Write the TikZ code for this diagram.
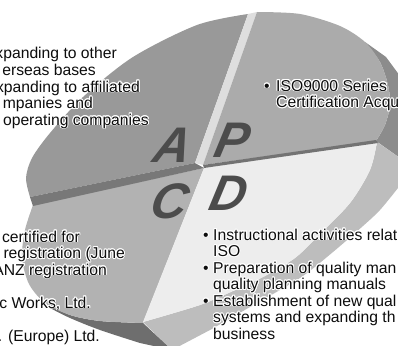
\documentclass[tikz,border=0pt]{standalone}
\usepackage{fontspec}
\setmainfont{Liberation Sans}
\newfontfamily\letterfont[FakeSlant=0.22]{Liberation Sans Bold Italic}
\usepackage[copies]{contour}
\contourlength{0.9pt}
\definecolor{faceA}{gray}{0.60}
\definecolor{faceP}{gray}{0.67}
\definecolor{sideP}{gray}{0.55}
\definecolor{sideLight}{gray}{0.87}
\definecolor{edgeA}{gray}{0.47}
\definecolor{edgeP}{gray}{0.45}
\definecolor{faceC}{gray}{0.70}
\definecolor{sideC}{gray}{0.43}
\definecolor{faceD}{gray}{0.93}
\definecolor{rimD}{gray}{0.74}
\definecolor{chargray}{gray}{0.30}
\definecolor{inkgray}{gray}{0.05}
\newcommand{\halo}[1]{\contour{white}{#1}}

\begin{document}
\begin{tikzpicture}[x=1pt,y=-1pt,
  txt/.style={inner sep=0pt, font=\fontsize{15.7}{16.5}\selectfont, text=inkgray},
  bigchar/.style={inner sep=0pt, font=\fontsize{50}{50}\selectfont\letterfont, text=chargray}]
  \useasboundingbox (0,0) rectangle (398,345);
  \clip (0,0) rectangle (398,345);

  % P side face and D rim
  \fill[sideP] plot[smooth] coordinates {(365,42) (380,62) (388,85) (390,105) (385,125) (376,141)}
    -- (400,158) -- (400,76) -- plot[smooth] coordinates {(386,57) (365,42)} -- cycle;
  \fill[rimD] plot[smooth] coordinates {(377,142) (370,170) (350,203) (318,236) (295,258) (265,276) (233,291) (200,305) (143,322)}
    -- (172,350) -- plot[smooth] coordinates {(210,330) (250,307) (300,278) (333,252) (363,226) (380,210) (398,188)}
    -- (400,158) -- cycle;

  % C slab
  \fill[sideC] plot[smooth] coordinates {(45,303) (70,315) (100,321) (143,323)}
    -- (172,350) -- plot[smooth] coordinates {(140,343) (100,330) (70,318) (50,308)} -- cycle;
  \fill[faceC] plot[smooth] coordinates {(33,205) (25,230) (22,258) (29,284) (45,303) (70,315) (100,321) (143,323)}
    -- (204,168) -- cycle;

  % D slab
  \fill[faceD] (204,168) -- plot[smooth] coordinates {(377,142) (370,170) (350,203) (318,236) (295,258) (265,276) (233,291) (200,305) (143,322)} -- cycle;

  % A slab
  \fill[faceA] plot[smooth] coordinates {(30,197) (26,178) (32,158) (50,133) (83,97) (133,57) (197,25) (248,14)}
    -- (195,163) -- cycle;
  \fill[edgeA] (30,197) -- (195,163) -- (204,168) -- (33,206) -- cycle;

  % P slab
  \fill[sideLight] (248,14) -- (257,12) -- (203,165) -- (195,163) -- cycle;
  \fill[faceP] plot[smooth] coordinates {(257,12) (300,14) (340,26) (365,42) (380,62) (388,85) (390,105) (385,125) (376,141)}
    -- (203,165) -- cycle;
  \fill[edgeP] (203,165) -- (376,140) -- (378,143) -- (204,168) -- cycle;

  % quadrant letters
  \node[bigchar] (lA) at (170,145) {A};
  \node[bigchar] (lP) at (229,140) {P};
  \node[bigchar] (lC) at (167,201) {C};
  \node[bigchar] (lD) at (226,193) {D};

  % A texts
  \node[txt, anchor=base east] (a1) at (117,59) {\halo{xpanding to other}};
  \node[txt, anchor=base east] (a2) at (96,75.5) {\halo{erseas bases}};
  \node[txt, anchor=base east] (a3) at (140,92) {\halo{xpanding to affiliated}};
  \node[txt, anchor=base east] (a4) at (93,108.5) {\halo{mpanies and}};
  \node[txt, anchor=base east] (a5) at (149,125) {\halo{operating companies}};

  % P texts
  \node[txt, anchor=base west] (p1) at (264,91) {\halo{•}};
  \node[txt, anchor=base west] (p2) at (276,91) {\halo{ISO9000 Series}};
  \node[txt, anchor=base west] (p3) at (276,107.5) {\halo{Certification Acqu}};

  % C texts
  \node[txt, anchor=base east] (c1) at (80,242) {\halo{certified for}};
  \node[txt, anchor=base east] (c2) at (125,258.5) {\halo{registration (June}};
  \node[txt, anchor=base east] (c3) at (107,275) {\halo{ANZ registration}};
  \node[txt, anchor=base east] (c4) at (91,308) {\halo{c Works, Ltd.}};
  \node[txt, anchor=base east] (c5) at (100,341) {\halo{. (Europe) Ltd.}};

  % D texts
  \node[txt, anchor=base west] (d1) at (203,240) {\halo{•}};
  \node[txt, anchor=base west] (d2) at (213,240) {\halo{Instructional activities relat}};
  \node[txt, anchor=base west] (d3) at (213,256.5) {\halo{ISO}};
  \node[txt, anchor=base west] (d4) at (203,273) {\halo{•}};
  \node[txt, anchor=base west] (d5) at (213,273) {\halo{Preparation of quality man}};
  \node[txt, anchor=base west] (d6) at (213,289.5) {\halo{quality planning manuals}};
  \node[txt, anchor=base west] (d7) at (203,306) {\halo{•}};
  \node[txt, anchor=base west] (d8) at (213,306) {\halo{Establishment of new qual}};
  \node[txt, anchor=base west] (d9) at (213,322.5) {\halo{systems and expanding th}};
  \node[txt, anchor=base west] (d10) at (213,339) {\halo{business}};
\end{tikzpicture}
\end{document}
